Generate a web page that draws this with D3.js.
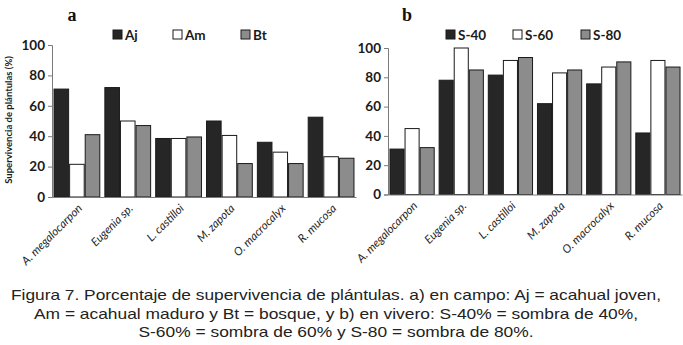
<!DOCTYPE html>
<html>
<head>
<meta charset="utf-8">
<script src="https://cdn.jsdelivr.net/npm/d3@7"></script>
<style>
  html, body { margin: 0; padding: 0; background: #fff; }
  svg { display: block; }
</style>
</head>
<body>
<svg id="fig" width="683" height="345"></svg>
<script>
// species on the x axis (same for both panels)
const species = ['A. megalocarpon', 'Eugenia sp.', 'L. castilloi', 'M. zapota', 'O. macrocalyx', 'R. mucosa'];
const yTicks = [0, 20, 40, 60, 80, 100];

// panel a: en campo
const seriesA = ['Aj', 'Am', 'Bt'];
const aj = [71, 72, 38.5, 50, 36, 52.5];
const am = [21.5, 50, 38.5, 40.5, 29.5, 26.5];
const bt = [41, 47, 39.5, 22, 22, 25.5];

// panel b: en vivero
const seriesB = ['S-40', 'S-60', 'S-80'];
const s40 = [31, 78, 81.5, 62, 75.5, 42];
const s60 = [45, 100, 91.5, 83, 87, 91.5];
const s80 = [32, 85, 93.5, 85, 90.5, 87];

const captionLines = [
  'Figura 7. Porcentaje de supervivencia de plántulas. a) en campo: Aj = acahual joven,',
  'Am = acahual maduro y Bt = bosque, y b) en vivero: S-40% = sombra de 40%,',
  'S-60% = sombra de 60% y S-80 = sombra de 80%.'
];

const fills = ['#262626', '#ffffff', '#8c8c8c'];
const svg = d3.select('#fig');

function panel(opts) {
  const x = d3.scaleBand()
              .domain(species)
              .range(opts.xRange)
              .paddingInner(0.08)
              .paddingOuter(0.03);
  const xs = d3.scaleBand()
               .domain(opts.series)
               .range([0, x.bandwidth()]);
  const y = d3.scaleLinear()
              .domain([0, 100])
              .range(opts.yRange);

  const g = svg.append('g');

  // bars
  const rows = [];
  opts.values.forEach((vals, si) => {
    vals.forEach((v, ci) => rows.push({ s: opts.series[si], si: si, c: species[ci], v: v }));
  });
  g.selectAll('rect.bar')
   .data(rows)
   .enter()
   .append('rect')
   .attr('class', 'bar')
   .attr('x', d => x(d.c) + xs(d.s) + 0.5)
   .attr('y', d => y(d.v))
   .attr('width', xs.bandwidth() - 1)
   .attr('height', d => y(0) - y(d.v))
   .attr('fill', d => fills[d.si])
   .attr('stroke', '#1a1a1a')
   .attr('stroke-width', 1);

  // y axis
  const yAxis = d3.axisLeft(y).tickValues(yTicks).tickSize(4).tickPadding(3);
  const ya = g.append('g')
              .attr('transform', 'translate(' + opts.xRange[0] + ',0)')
              .call(yAxis);
  ya.select('.domain').attr('stroke', '#7a7a7a');
  ya.selectAll('.tick line').attr('stroke', '#7a7a7a');
  ya.selectAll('text')
    .attr('font-family', 'Lato, sans-serif')
    .attr('font-weight', 'bold')
    .attr('font-size', 13.5)
    .attr('fill', '#1a1a1a');

  // x axis line
  const xa = g.append('g')
              .attr('transform', 'translate(0,' + y(0) + ')')
              .call(d3.axisBottom(x).tickSize(0).tickFormat(''));
  xa.select('.domain').attr('stroke', '#7a7a7a');

  // rotated category labels
  g.selectAll('text.cat')
   .data(species)
   .enter()
   .append('text')
   .attr('class', 'cat')
   .attr('transform', d => 'translate(' + (x(d) + x.bandwidth() / 2 + 6) + ',' + (y(0) + 12) + ') rotate(-45)')
   .attr('text-anchor', 'end')
   .attr('font-family', 'Lato, sans-serif')
   .attr('font-style', 'italic')
   .attr('font-size', 11.5)
   .attr('fill', '#262626')
   .text(d => d);

  // legend
  const leg = g.selectAll('g.leg')
               .data(opts.series)
               .enter()
               .append('g')
               .attr('class', 'leg')
               .attr('transform', (d, i) => 'translate(' + opts.legendX[i] + ',' + 30 + ')');
  leg.append('rect')
     .attr('width', 9)
     .attr('height', 9)
     .attr('fill', (d, i) => fills[i])
     .attr('stroke', '#1a1a1a')
     .attr('stroke-width', 1);
  leg.append('text')
     .attr('x', 12)
     .attr('y', 9.5)
     .attr('font-family', 'Lato, sans-serif')
     .attr('font-weight', 'bold')
     .attr('font-size', 13.5)
     .attr('fill', '#1a1a1a')
     .text(d => d);

  // panel letter
  g.append('text')
   .attr('x', opts.letterX)
   .attr('y', 21)
   .attr('text-anchor', 'middle')
   .attr('font-family', '"Liberation Serif", serif')
   .attr('font-weight', 'bold')
   .attr('font-size', 18)
   .attr('fill', '#111')
   .text(opts.letter);
}

panel({
  series: seriesA,
  values: [aj, am, bt],
  xRange: [52, 356],
  yRange: [197, 45],
  legendX: [113, 173, 241],
  letterX: 72,
  letter: 'a'
});

panel({
  series: seriesB,
  values: [s40, s60, s80],
  xRange: [388, 682],
  yRange: [194.5, 48],
  legendX: [446, 513, 581],
  letterX: 407,
  letter: 'b'
});

// y title of panel a
svg.append('text')
   .attr('transform', 'translate(12,120) rotate(-90)')
   .attr('text-anchor', 'middle')
   .attr('font-family', 'Lato, sans-serif')
   .attr('font-weight', 'bold')
   .attr('font-size', 9.5)
   .attr('fill', '#1a1a1a')
   .text('Supervivencia de plántulas (%)');

// caption
const capWidths = [650, 604, 395];
svg.selectAll('text.cap')
   .data(captionLines)
   .enter()
   .append('text')
   .attr('class', 'cap')
   .attr('x', 336)
   .attr('y', (d, i) => 300 + i * 18.5)
   .attr('text-anchor', 'middle')
   .attr('font-family', '"Liberation Sans", Arial, sans-serif')
   .attr('font-size', 15)
   .attr('fill', '#222')
   .attr('textLength', (d, i) => capWidths[i])
   .attr('lengthAdjust', 'spacingAndGlyphs')
   .text(d => d);
</script>
</body>
</html>
